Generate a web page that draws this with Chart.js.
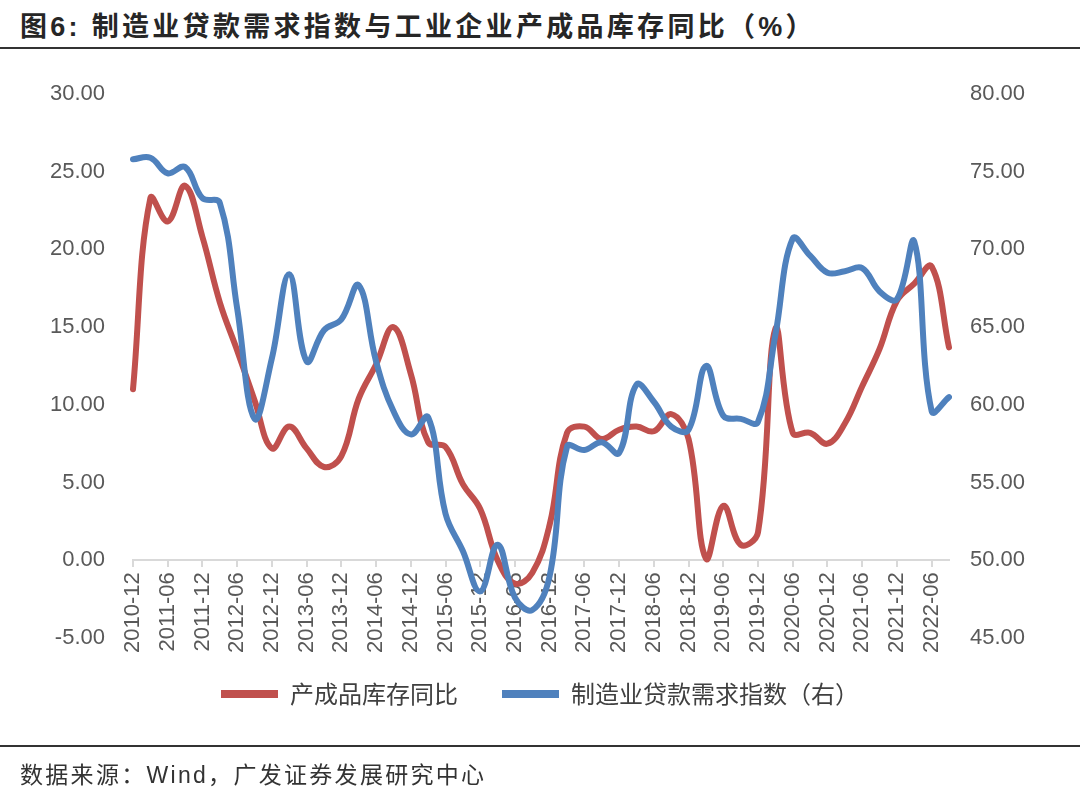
<!DOCTYPE html>
<html>
<head>
<meta charset="utf-8">
<script src="https://cdn.jsdelivr.net/npm/chart.js@4"></script>
<style>
  body { margin: 0; background: #fff; }
  #page { position: relative; width: 1080px; height: 792px; overflow: hidden; }
  #title {
    position: absolute; left: 20px; top: 5px;
    font: bold 27px "Liberation Sans", "Noto Sans CJK SC", sans-serif;
    color: #262626; letter-spacing: 3.3px; white-space: nowrap;
  }
  .rule { position: absolute; left: 0; width: 1080px; background: #333; }
  #source {
    position: absolute; left: 20px; top: 756px;
    font: 23px "Liberation Sans", "Noto Sans CJK SC", sans-serif;
    color: #333; letter-spacing: 2.3px; white-space: nowrap;
  }
  #myChart { position: absolute; left: 0; top: 0; }
</style>
</head>
<body>
<div id="page">
  <div id="title">图6:&nbsp;制造业贷款需求指数与工业企业产成品库存同比（%）</div>
  <div class="rule" style="top:47px;height:2px"></div>
  <canvas id="myChart" width="1080" height="792"></canvas>
  <div class="rule" style="top:745px;height:1.5px"></div>
  <div id="source">数据来源：Wind，广发证券发展研究中心</div>
</div>
<script>
// 季度数据 (2010-12 ~ 2022-09)
const quarters = [
  "2010-12", "2011-03", "2011-06", "2011-09", "2011-12", "2012-03", "2012-06", "2012-09",
  "2012-12", "2013-03", "2013-06", "2013-09", "2013-12", "2014-03", "2014-06", "2014-09",
  "2014-12", "2015-03", "2015-06", "2015-09", "2015-12", "2016-03", "2016-06", "2016-09",
  "2016-12", "2017-03", "2017-06", "2017-09", "2017-12", "2018-03", "2018-06", "2018-09",
  "2018-12", "2019-03", "2019-06", "2019-09", "2019-12", "2020-03", "2020-06", "2020-09",
  "2020-12", "2021-03", "2021-06", "2021-09", "2021-12", "2022-03", "2022-06", "2022-09",
];

// 产成品库存同比 (左轴, %)
const inventoryYoY = [
  11.0, 23.3, 21.8, 24.1, 20.8, 16.6, 13.5, 10.3,
  7.2, 8.6, 7.2, 6.0, 6.7, 10.4, 12.6, 15.0,
  12.0, 7.6, 7.3, 4.9, 3.3, 0.0, -1.5, -0.8,
  2.3, 8.2, 8.6, 7.8, 8.4, 8.6, 8.3, 9.4,
  7.8, 0.1, 3.5, 1.0, 1.8, 14.9, 8.2, 8.2,
  7.5, 8.8, 11.2, 13.6, 16.7, 17.8, 18.9, 13.7,
];

// 制造业贷款需求指数 (右轴)
const loanDemand = [
  75.8, 75.9, 74.9, 75.3, 73.3, 73.0, 66.2, 59.1,
  63.0, 68.4, 62.8, 64.8, 65.5, 67.7, 62.8, 59.6,
  58.1, 59.2, 53.0, 50.6, 48.0, 51.0, 47.6, 46.8,
  49.0, 57.3, 57.1, 57.6, 56.9, 61.3, 60.2, 58.6,
  58.4, 62.5, 59.3, 59.1, 58.9, 64.5, 70.7, 69.6,
  68.5, 68.6, 68.8, 67.3, 66.8, 70.5, 59.6, 60.5,
];

// 坐标轴范围
const leftAxisRange = [-5, 30];
const rightAxisRange = [45, 80];
const axisStep = 5;

const RED = "#C0504D";
const BLUE = "#4F81BD";
const TICK_COLOR = "#595959";

const ctx = document.getElementById("myChart").getContext("2d");

new Chart(ctx, {
  type: "line",
  data: {
    labels: quarters,
    datasets: [
      {
        label: "产成品库存同比",
        data: inventoryYoY,
        yAxisID: "y",
        borderColor: RED,
        backgroundColor: RED,
        order: 1,
      },
      {
        label: "制造业贷款需求指数（右）",
        data: loanDemand,
        yAxisID: "y1",
        borderColor: BLUE,
        backgroundColor: BLUE,
        order: 0,
      },
    ],
  },
  options: {
    responsive: false,
    devicePixelRatio: 1,
    animation: false,
    layout: {
      padding: { top: 94, bottom: 76, left: 0, right: 0 },
    },
    elements: {
      line: {
        borderWidth: 6,
        tension: 0.4,
        borderCapStyle: "round",
        borderJoinStyle: "round",
      },
      point: { radius: 0, hoverRadius: 0 },
    },
    plugins: {
      tooltip: { enabled: false },
      legend: {
        position: "bottom",
        labels: {
          boxWidth: 57,
          boxHeight: 8,
          padding: 44,
          color: "#404040",
          font: { family: "'Noto Sans CJK SC', sans-serif", size: 24 },
          generateLabels: (chart) =>
            chart.data.datasets.map((ds, i) => ({
              text: ds.label,
              fillStyle: ds.borderColor,
              strokeStyle: ds.borderColor,
              lineWidth: 0,
              hidden: false,
              datasetIndex: i,
              fontColor: "#404040",
            })),
        },
      },
    },
    scales: {
      x: {
        type: "category",
        position: { y: 0 },
        offset: false,
        border: { color: "#d9d9d9", width: 2 },
        grid: {
          drawOnChartArea: false,
          drawTicks: true,
          tickLength: 6,
          color: "#d9d9d9",
          lineWidth: 2,
        },
        ticks: {
          autoSkip: false,
          maxRotation: 90,
          minRotation: 90,
          padding: 6,
          color: TICK_COLOR,
          font: { family: "'Liberation Sans', Arial, sans-serif", size: 22 },
          callback: function (value, index) {
            return index % 2 === 0 ? this.getLabelForValue(value) : null;
          },
        },
      },
      y: {
        position: "left",
        min: leftAxisRange[0],
        max: leftAxisRange[1],
        border: { display: false },
        grid: { display: false, drawTicks: false },
        ticks: {
          stepSize: axisStep,
          padding: 28,
          color: TICK_COLOR,
          font: { family: "'Liberation Sans', Arial, sans-serif", size: 22 },
          callback: (v) => v.toFixed(2),
        },
        afterFit: (scale) => {
          scale.width = 133;
        },
      },
      y1: {
        position: "right",
        min: rightAxisRange[0],
        max: rightAxisRange[1],
        border: { display: false },
        grid: { display: false, drawTicks: false },
        ticks: {
          stepSize: axisStep,
          padding: 21,
          color: TICK_COLOR,
          font: { family: "'Liberation Sans', Arial, sans-serif", size: 22 },
          callback: (v) => v.toFixed(2),
        },
        afterFit: (scale) => {
          scale.width = 131;
        },
      },
    },
  },
});
</script>
</body>
</html>
